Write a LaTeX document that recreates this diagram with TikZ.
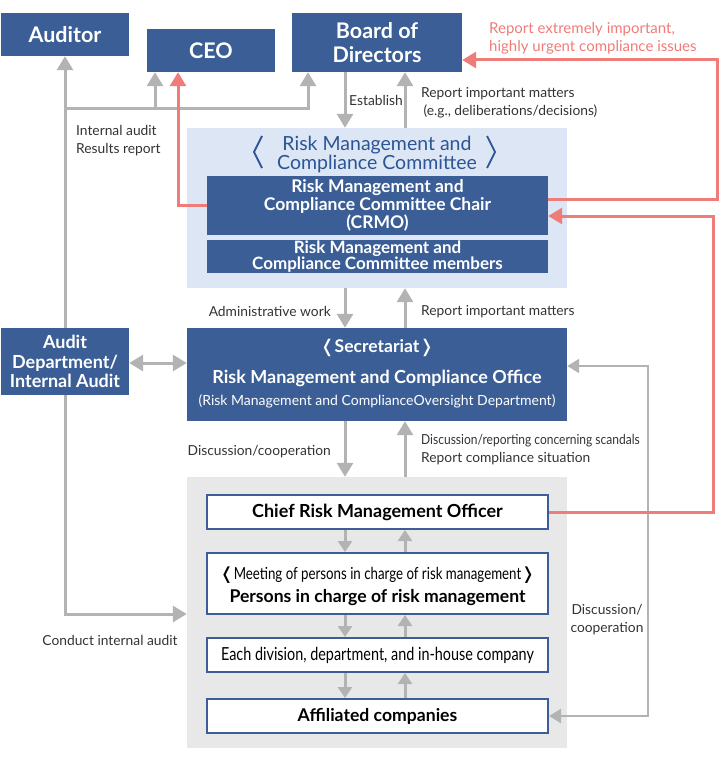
\documentclass[tikz,border=0pt]{standalone}
\usepackage{fontspec}
\setmainfont{Lato}
\newfontfamily\condfont[FakeStretch=0.8]{Lato}
\newfontfamily\narrowfont[FakeStretch=0.87]{Lato}
\newfontfamily\brfont{DejaVu Sans}
\newcommand\tightlines{\lineskiplimit=-10pt\relax}
\usetikzlibrary{arrows.meta,positioning}
\definecolor{boxblue}{HTML}{3A5E95}
\definecolor{titleblue}{HTML}{2B5595}
\definecolor{paleblue}{HTML}{DCE6F5}
\definecolor{palegray}{HTML}{E8E8E8}
\definecolor{arrgray}{HTML}{B3B3B3}
\definecolor{arrred}{HTML}{EE7C78}
\definecolor{txtgray}{HTML}{333333}
\tikzset{
    dbox/.style={fill=boxblue, text=white, font=\bfseries, align=center, inner sep=0pt}, % dark blue boxes
    wbox/.style={fill=white, draw=boxblue, line width=2pt, align=center, inner sep=0pt,
                 minimum width=341, minimum height=34}, % white boxes in the grey panel
    lbl/.style={font=\fontsize{13.8}{18}\selectfont, text=txtgray, inner sep=0pt, align=left}, % connector labels
    garr/.style={draw=arrgray, line width=3pt, -{Triangle[width=16pt,length=14pt]}}, % grey arrows
    sarr/.style={draw=arrgray, line width=3pt, -{Triangle[width=14pt,length=11pt]}}, % small grey arrows
    rarr/.style={draw=arrred, line width=3pt, -{Triangle[width=16pt,length=14pt]}}, % red arrows
}

\begin{document}
\begin{tikzpicture}[x=1pt,y=-1pt]
  \useasboundingbox (0,0) rectangle (722,762);

  % top row
  \node[dbox, minimum width=128, minimum height=43, font=\fontsize{21.5}{24}\selectfont\bfseries]
      (auditor) at (65,34.5) {Auditor};
  \node[dbox, minimum width=128, minimum height=43, font=\fontsize{21.5}{24}\selectfont\bfseries]
      (ceo) at (211,50.5) {CEO};
  \node[dbox, minimum width=170, minimum height=59, font=\fontsize{21.5}{24}\selectfont\bfseries]
      (board) at (377,42.5) {Board of\\Directors};

  % committee
  \node[fill=paleblue, minimum width=380, minimum height=160, inner sep=0pt] (comm) at (377,208) {};
  \node[text=titleblue, inner sep=0pt, align=center, font=\fontsize{19.5}{19}\selectfont] (commtitle) at (377,154)
      {Risk Management and\\Compliance Committee};
  \draw[titleblue, line width=1.8pt] (262,136) -- (254,152) -- (262,168);
  \draw[titleblue, line width=1.8pt] (487,136) -- (495,152) -- (487,168);
  \node[dbox, minimum width=341, minimum height=58, font=\fontsize{17.5}{18}\selectfont\bfseries]
      (chair) at (377.5,205.5) {Risk Management and\\Compliance Committee Chair\\(CRMO)};
  \node[dbox, minimum width=341, minimum height=33,
        font=\fontsize{17}{16.5}\selectfont\bfseries\tightlines]
      (members) at (377.5,256.5) {Risk Management and\\Compliance Committee members};

  % audit department and secretariat
  \node[dbox, minimum width=128, minimum height=67, font=\fontsize{18}{19.5}\selectfont\bfseries]
      (auditdept) at (65,361.5) {Audit\\Department/\\Internal Audit};
  \node[dbox, minimum width=380, minimum height=93] (secr) at (377,374.5) {};
  \node[text=white, font=\fontsize{17.5}{18}\selectfont\bfseries] (secrtitle) at (377,348)
      {{\brfont ❬}Secretariat{\brfont ❭}};
  \node[text=white, font=\fontsize{18}{20}\selectfont\bfseries] (secrname) at (377,378)
      {Risk Management and Compliance Office};
  \node[text=white, font=\fontsize{14}{16}\selectfont] (secrdept) at (377,401)
      {(Risk Management and ComplianceOversight Department)};

  % grey panel
  \node[fill=palegray, minimum width=380, minimum height=271, inner sep=0pt] (panel) at (377,612.5) {};
  \node[wbox, font=\fontsize{18}{19}\selectfont\bfseries] (chief) at (377.5,512) {Chief Risk Management Officer};
  \node[wbox, minimum height=61] (meeting) at (377.5,583.5) {};
  \node[font=\fontsize{16.6}{18}\selectfont\condfont] (meettitle) at (377.5,575)
      {{\brfont ❬}Meeting of persons in charge of risk management{\brfont ❭}};
  \node[font=\fontsize{17.6}{19}\selectfont\bfseries] (meetname) at (377.5,598)
      {Persons in charge of risk management};
  \node[wbox, font=\fontsize{18}{19}\selectfont\condfont] (division) at (377.5,655)
      {Each division, department, and in-house company};
  \node[wbox, font=\fontsize{17.6}{19}\selectfont\bfseries] (affil) at (377.5,716) {Affiliated companies};

  % columns of the vertical arrows
  \coordinate (dn) at (345,0);
  \coordinate (up) at (405,0);

  % audit report lines
  \coordinate (junc) at (66,109);
  \draw[garr] (auditdept.north) -- (auditor.south);
  \draw[garr] (junc) -| (ceo.south -| 155,0);
  \draw[garr] (junc) -| (board.south -| 308,0);
  \draw[garr] (auditdept.south) |- (panel.west |- 0,614);
  \draw[garr, {Triangle[width=16pt,length=14pt]}-{Triangle[width=16pt,length=14pt]}]
    (auditdept.east |- 0,363) -- (secr.west |- 0,363);

  % main column
  \draw[garr] (board.south -| dn) -- (comm.north -| dn);
  \draw[garr] (comm.north -| up) -- (board.south -| up);
  \draw[garr] (comm.south -| dn) -- (secr.north -| dn);
  \draw[garr] (secr.north -| up) -- (comm.south -| up);
  \draw[garr] (secr.south -| dn) -- (panel.north -| dn);
  \draw[garr] (panel.north -| up) -- (secr.south -| up);
  \draw[sarr] (chief.south -| dn) -- (meeting.north -| dn);
  \draw[sarr] (meeting.north -| up) -- (chief.south -| up);
  \draw[sarr] (meeting.south -| dn) -- (division.north -| dn);
  \draw[sarr] (division.north -| up) -- (meeting.south -| up);
  \draw[sarr] (division.south -| dn) -- (affil.north -| dn);
  \draw[sarr] (affil.north -| up) -- (division.south -| up);

  % discussion/cooperation loop
  \draw[draw=arrgray, line width=2pt, {Triangle[width=14pt,length=12pt]}-{Triangle[width=14pt,length=12pt]}]
    (affil.east) -| (648,500) |- (secr.east |- 0,366);

  % red reporting lines
  \draw[rarr] (chair.west) -| (ceo.south -| 178,0);
  \draw[rarr] (chair.east |- 0,199) -| (717,130) |- (board.east |- 0,60);
  \draw[rarr] (chief.east) -| (713,400) |- (chair.east |- 0,216);

  % labels
  \node[lbl, anchor=west] (lblaudit) at (76,141) {Internal audit\\Results report};
  \node[lbl, anchor=west] (lblest) at (349,100.5) {Establish};
  \node[lbl, anchor=west] (lblrep1) at (421,103) {Report important matters\\ \,(e.g., deliberations/decisions)};
  \node[lbl, anchor=west, text=arrred, font=\fontsize{15}{18}\selectfont] (lblred) at (489,38)
      {Report extremely important,\\highly urgent compliance issues};
  \node[lbl, anchor=east] (lbladmin) at (331,311.5) {Administrative work};
  \node[lbl, anchor=west] (lblrep2) at (421,311.5) {Report important matters};
  \node[lbl, anchor=east] (lbldisc) at (331,451.5) {Discussion/cooperation};
  \node[lbl, anchor=west] (lblscan) at (421,449.5) {{\narrowfont Discussion/reporting concerning scandals}\\Report compliance situation};
  \node[lbl, align=center] (lblcoop) at (607,619.5) {Discussion/\\cooperation};
  \node[lbl] (lblconduct) at (110,640.5) {Conduct internal audit};
\end{tikzpicture}
\end{document}
